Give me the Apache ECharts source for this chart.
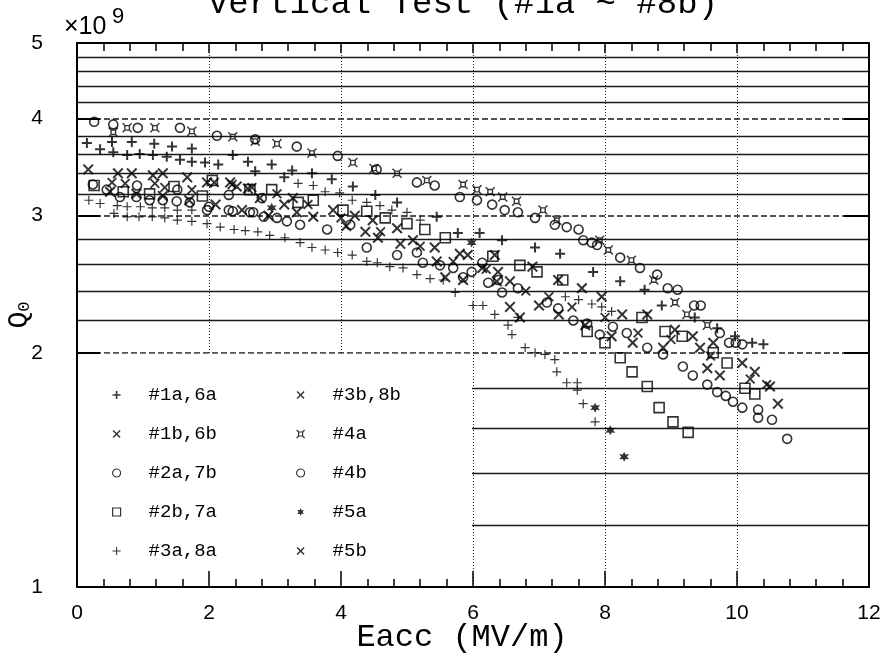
<!DOCTYPE html>
<html><head><meta charset="utf-8">
<script src="https://cdn.jsdelivr.net/npm/echarts@6/dist/echarts.min.js"></script>
<style>html,body{margin:0;padding:0;background:#fff}#c{width:886px;height:663px}</style>
</head><body><div id="c"></div>
<script>
// ---- tick labels / grid values ----
const xTickLabels = [0, 2, 4, 6, 8, 10, 12];
const yTickLabels = [1, 2, 3, 4, 5];
const yGridMinor = [1.2, 1.4, 1.6, 1.8, 2.2, 2.4, 2.6, 2.8, 3.2, 3.4, 3.6, 3.8, 4.2, 4.4, 4.6, 4.8];
const yGridMajor = [2, 3, 4];
const seriesNames = ['#1a,6a', '#1b,6b', '#2a,7b', '#2b,7a', '#3a,8a', '#3b,8b', '#4a', '#4b', '#5a', '#5b'];

// ---- data: [Eacc (MV/m), Q0 (x1e9)] ----
const s1a6a = [[0.15,3.72],[0.53,3.73],[0.83,3.73],[1.17,3.71],[1.44,3.68],[1.74,3.66],
  [0.35,3.65],[0.55,3.62],[0.76,3.59],[0.95,3.60],[1.15,3.59],[1.36,3.57],[1.56,3.54],[1.74,3.52],
  [1.94,3.51],[2.14,3.49],[2.36,3.59],[2.59,3.52],[2.7,3.42],[2.95,3.49],[3.14,3.36],[3.26,3.43],
  [3.56,3.40],[3.86,3.34],[4.18,3.27],[4.52,3.19],[4.85,3.12],[5.45,2.99],[5.77,2.85],[6.1,2.85],
  [6.44,2.79],[6.94,2.73],[7.32,2.68],[7.82,2.54],[8.23,2.47],[8.6,2.41],[8.86,2.30],[9.36,2.22],
  [9.7,2.15],[9.97,2.10],[10.23,2.06],[10.4,2.05]];
const s1b6b = [[0.17,3.44],[0.62,3.40],[0.83,3.40],[1.15,3.38],[1.3,3.40],[1.67,3.36],[1.97,3.31],
  [2.32,3.31],[2.42,3.27],[2.59,3.25],[2.77,3.16],[3.14,3.10],[3.27,3.16],[3.88,3.05],[4.21,3.00],
  [4.48,2.96],[4.85,2.89],[5.09,2.79],[5.42,2.73],[5.8,2.68],[5.92,2.67],[6.33,2.67],[6.56,2.47],
  [6.9,2.58],[7.29,2.48],[7.65,2.42],[7.95,2.36],[8.26,2.24],[8.64,2.24],[9.06,2.14],[9.33,2.10],
  [9.64,2.06],[10.08,1.94],[10.27,1.89],[10.5,1.81],[10.62,1.72]];
const s2a7b = [[0.24,3.29],[0.45,3.24],[0.65,3.17],[0.9,3.17],[0.91,3.28],[1.1,3.14],[1.3,3.14],
  [1.51,3.13],[1.52,3.24],[1.71,3.12],[1.97,3.05],[2.0,3.08],[2.3,3.05],[2.3,3.19],[2.36,3.04],
  [2.62,3.03],[2.67,3.03],[2.8,3.16],[2.83,2.99],[3.03,2.98],[3.18,2.95],[3.38,2.92],[3.79,2.88],
  [4.14,2.92],[4.39,2.73],[4.85,2.67],[5.15,2.69],[5.24,2.61],[5.5,2.59],[5.7,2.57],[5.85,2.50],
  [5.98,2.54],[6.14,2.61],[6.23,2.46],[6.38,2.48],[6.44,2.39],[6.68,2.42],[7.12,2.32],[7.29,2.28],
  [7.52,2.20],[7.73,2.18],[7.92,2.11],[8.12,2.16],[8.33,2.12],[8.64,2.03],[8.88,1.99],[9.18,1.92],
  [9.33,1.87],[9.55,1.82],[9.7,1.78],[9.83,1.76],[9.94,1.73],[10.08,1.70],[10.32,1.69],[10.32,1.65],
  [10.53,1.64],[10.76,1.55]];
const s2b7a = [[0.26,3.28],[0.7,3.22],[1.1,3.20],[1.47,3.27],[1.9,3.18],[2.05,3.33],[2.62,3.24],
  [2.95,3.24],[3.35,3.12],[3.58,3.14],[4.03,3.05],[4.39,3.04],[4.67,2.98],[5.0,2.93],[5.27,2.88],
  [5.58,2.81],[6.3,2.66],[6.71,2.59],[6.97,2.54],[7.36,2.48],[7.73,2.13],[8.0,2.06],[8.23,1.97],
  [8.41,1.89],[8.64,1.81],[8.82,1.70],[9.03,1.63],[9.26,1.58],[8.56,2.22],[8.91,2.13],[9.17,2.10],
  [9.64,2.00],[9.85,1.94],[10.12,1.80],[10.27,1.77]];
const s3a8a = [[0.18,3.14],[0.35,3.11],[0.61,3.09],[0.76,3.08],[0.96,3.08],[1.14,3.07],[1.33,3.07],
  [1.52,3.05],[1.74,3.05],[0.56,3.02],[0.76,2.99],[0.94,2.99],[1.14,2.99],[1.33,2.98],[1.52,2.96],
  [1.74,2.95],[1.97,2.93],[2.17,2.90],[2.38,2.88],[2.55,2.87],[2.74,2.86],[2.92,2.83],[3.15,2.81],
  [3.38,2.77],[3.56,2.73],[3.76,2.71],[3.95,2.69],[4.17,2.67],[4.39,2.62],[4.55,2.61],[4.74,2.58],
  [4.94,2.57],[5.15,2.52],[5.35,2.49],[5.55,2.48],[5.73,2.39],[6.0,2.30],[6.15,2.30],[6.33,2.24],
  [6.53,2.17],[6.68,2.22],[6.59,2.11],[6.79,2.03],[6.94,2.00],[7.09,1.99],[7.24,1.96],[7.27,1.89],
  [7.42,1.83],[7.58,1.83],[7.58,1.79],[7.67,1.72],[7.85,1.63],
  [3.35,3.30],[3.58,3.28],[3.76,3.22],[3.98,3.21],[4.17,3.14],[4.39,3.12],[4.59,3.09],[4.77,3.05],
  [5.0,3.03],[5.2,2.96],[7.4,2.36],[7.6,2.34],[7.8,2.31],[7.95,2.29],[8.1,2.26]];
const s3b8b = [[0.5,3.22],[0.9,3.20],[1.3,3.18],[1.7,3.14],[2.1,3.10],[2.5,3.05],[2.9,3.00],
  [3.33,3.03],[3.58,2.99],[4.08,2.91],[4.37,2.86],[4.56,2.81],[4.9,2.76],[5.45,2.62],[5.58,2.50],
  [5.85,2.48],[6.14,2.57],[6.38,2.54],[6.36,2.47],[6.56,2.29],[6.71,2.22],[7.0,2.30],[7.3,2.24],
  [7.7,2.17],[8.1,2.10],[8.42,2.06],[8.88,2.03],[9.44,2.03],[9.55,1.91],[9.74,1.87]];
const s4a = [[0.55,3.84],[0.76,3.89],[1.18,3.89],[1.74,3.85],[2.36,3.79],[2.7,3.74],[3.03,3.71],
  [3.56,3.61],[4.18,3.51],[4.5,3.45],[4.85,3.40],[5.3,3.33],[5.85,3.29],[6.06,3.24],[6.26,3.22],
  [6.45,3.17],[6.66,3.13],[7.06,3.05],[7.27,2.96],[7.92,2.79],[8.05,2.71],[8.4,2.63],[8.74,2.48],
  [9.06,2.32],[9.24,2.24],[9.55,2.17]];
const s4b = [[0.26,3.96],[0.55,3.93],[0.92,3.89],[1.56,3.89],[2.12,3.80],[2.7,3.76],[3.33,3.68],
  [3.95,3.58],[4.54,3.44],[5.15,3.31],[5.42,3.28],[5.8,3.17],[6.06,3.14],[6.29,3.10],[6.48,3.05],
  [6.68,3.03],[6.94,2.98],[7.24,2.92],[7.42,2.90],[7.6,2.88],[7.67,2.79],[7.8,2.77],[7.88,2.75],
  [8.23,2.65],[8.53,2.57],[8.79,2.52],[8.95,2.42],[9.1,2.41],[9.35,2.30],[9.45,2.30],[9.74,2.12],
  [9.88,2.06],[9.98,2.06],[10.08,2.05]];
const s5a = [[2.95,3.07],[5.98,2.77],[7.85,1.70],[8.08,1.59],[8.29,1.47]];
const s5b = [[0.53,3.31],[0.73,3.30],[1.18,3.30],[1.33,3.26],[1.74,3.24],[2.08,3.31],[2.35,3.29],
  [2.65,3.26],[3.03,3.20],[3.5,3.10],[4.0,2.98],[4.6,2.86],[5.2,2.74],[5.7,2.62],[6.2,2.56],
  [6.8,2.40],[7.15,2.36],[7.5,2.29],[8.0,2.22],[8.5,2.12],[9.0,2.08],[9.6,1.98],[10.2,1.85],[10.45,1.82]];

// ---- symbols ----
const PLUS = 'path://M4,0H6V4H10V6H6V10H4V6H0V4H4Z';
const PLUS_THIN = 'path://M4.35,0H5.65V4.35H10V5.65H5.65V10H4.35V5.65H0V4.35H4.35Z';
const CROSS = 'path://M0,1.3L1.3,0L5,3.7L8.7,0L10,1.3L6.3,5L10,8.7L8.7,10L5,6.3L1.3,10L0,8.7L3.7,5Z';
const SQUARE = 'path://M0,0H10V10H0Z';
const BOXX = 'path://M2.5,2.5H7.5V7.5H2.5Z M0,0L2.5,2.5 M10,0L7.5,2.5 M0,10L2.5,7.5 M10,10L7.5,7.5';
const STAR = 'path://M5,0L6.2,2.8L9.3,2.5L7.4,5L9.3,7.5L6.2,7.2L5,10L3.8,7.2L0.7,7.5L2.6,5L0.7,2.5L3.8,2.8Z';

const BLACK = '#000';
const solid = {color: BLACK};
const hollow = {color: 'rgba(0,0,0,0)', borderColor: BLACK, borderWidth: 1.6};

function sc(name, data, symbol, size, style) {
  return {
    type: 'scatter', name: name, data: data, symbol: symbol, symbolSize: size,
    itemStyle: style, xAxisIndex: 0, yAxisIndex: 0,
    emphasis: {disabled: true}, silent: true, z: 2
  };
}

const chart = echarts.init(document.getElementById('c'), null, {renderer: 'canvas'});
const FONT_NUM = 'Liberation Sans';
const FONT_MONO = 'Liberation Mono';

const legendCommon = {
  orient: 'vertical', itemWidth: 54, itemHeight: 8, itemGap: 19, padding: 0,
  selectedMode: false, z: 4,
  itemStyle: {borderWidth: 1.2},
  textStyle: {fontFamily: FONT_MONO, fontSize: 19, color: BLACK, lineHeight: 20}
};

chart.setOption({
  animation: false,
  backgroundColor: '#fff',
  grid: {left: 77, right: 17, top: 43, bottom: 76, containLabel: false, outerBoundsMode: 'none'},
  legend: [
    Object.assign({data: seriesNames.slice(0, 5), left: 112, top: 385}, legendCommon),
    Object.assign({data: seriesNames.slice(5), left: 296, top: 385}, legendCommon)
  ],
  xAxis: [
    { // main bottom axis with ticks + labels
      type: 'value', min: 0, max: 12, interval: 2, position: 'bottom', z: 3,
      axisLine: {show: true, lineStyle: {color: BLACK, width: 2}},
      axisTick: {show: true, inside: true, length: 16, lineStyle: {color: BLACK, width: 1.5}},
      minorTick: {show: true, splitNumber: 5, length: 8, lineStyle: {color: BLACK, width: 1.5}},
      axisLabel: {customValues: xTickLabels, margin: 16, fontSize: 21, fontFamily: FONT_NUM, color: BLACK},
      splitLine: {show: false},
      name: 'Eacc (MV/m)', nameLocation: 'middle', nameGap: 35, nameMoveOverlap: false,
      nameTextStyle: {fontFamily: FONT_MONO, fontSize: 32, color: BLACK, padding: [0, 22, 0, 0]}
    },
    { // top mirror axis
      type: 'value', min: 0, max: 12, interval: 2, position: 'top', z: 3,
      axisLine: {show: true, lineStyle: {color: BLACK, width: 2}},
      axisTick: {show: true, inside: true, length: 10, lineStyle: {color: BLACK, width: 1.5}},
      minorTick: {show: true, splitNumber: 5, length: 8, lineStyle: {color: BLACK, width: 1.5}},
      axisLabel: {show: false}, splitLine: {show: false}
    },
    { // vertical dotted grid lines only
      type: 'value', min: 0, max: 12, interval: 2, position: 'bottom', z: 0,
      axisLine: {show: false}, axisTick: {show: false}, axisLabel: {show: false},
      splitLine: {show: true, lineStyle: {color: '#222', width: 1, type: [1, 2]}}
    }
  ],
  yAxis: [
    { // main left axis
      type: 'log', logBase: 10, min: 1, max: 5, position: 'left', z: 3,
      axisLine: {show: true, lineStyle: {color: BLACK, width: 2}},
      axisTick: {show: true, inside: true, length: 23, customValues: yTickLabels, lineStyle: {color: BLACK, width: 2}},
      axisLabel: {customValues: yTickLabels, margin: 34, fontSize: 21, fontFamily: FONT_NUM, color: BLACK},
      splitLine: {show: false},
      name: 'Q{sub|0}', nameLocation: 'middle', nameGap: 44, nameRotate: 90, nameMoveOverlap: false,
      nameTextStyle: {fontFamily: FONT_MONO, fontSize: 28, color: BLACK,
        rich: {sub: {fontFamily: FONT_MONO, fontSize: 17, color: BLACK, verticalAlign: 'bottom', lineHeight: 24}}}
    },
    { // minor solid horizontal grid
      type: 'log', logBase: 10, min: 1, max: 5, position: 'left', z: 0,
      axisLine: {show: false}, axisTick: {show: false, customValues: yGridMinor},
      axisLabel: {show: false, customValues: yGridMinor},
      splitLine: {show: true, lineStyle: {color: '#1a1a1a', width: 1.4}}
    },
    { // dashed horizontal grid at 2,3,4
      type: 'log', logBase: 10, min: 1, max: 5, position: 'left', z: 0,
      axisLine: {show: false}, axisTick: {show: false, customValues: yGridMajor},
      axisLabel: {show: false, customValues: yGridMajor},
      splitLine: {show: true, lineStyle: {color: '#1a1a1a', width: 1.5, type: [6, 3]}}
    },
    { // right mirror axis
      type: 'log', logBase: 10, min: 1, max: 5, position: 'right', z: 3,
      axisLine: {show: true, lineStyle: {color: BLACK, width: 2}},
      axisTick: {show: true, inside: true, length: 25, customValues: yGridMajor, lineStyle: {color: BLACK, width: 2}},
      axisLabel: {show: false}, splitLine: {show: false}
    }
  ],
  series: [
    sc(seriesNames[0], s1a6a, PLUS, 10, solid),
    sc(seriesNames[1], s1b6b, CROSS, 11, solid),
    sc(seriesNames[2], s2a7b, 'circle', 9, hollow),
    sc(seriesNames[3], s2b7a, SQUARE, 10, hollow),
    sc(seriesNames[4], s3a8a, PLUS_THIN, 9, solid),
    sc(seriesNames[5], s3b8b, CROSS, 11, solid),
    sc(seriesNames[6], s4a, BOXX, 9, {color: 'rgba(0,0,0,0)', borderColor: BLACK, borderWidth: 1.4}),
    sc(seriesNames[7], s4b, 'circle', 9, hollow),
    sc(seriesNames[8], s5a, STAR, 10, solid),
    sc(seriesNames[9], s5b, CROSS, 10, solid)
  ]
});

// white panel behind the legend, placed through the axis scales
const pTL = chart.convertToPixel({xAxisIndex: 0, yAxisIndex: 0}, [0, 2]);
const pBR = chart.convertToPixel({xAxisIndex: 0, yAxisIndex: 0}, [6, 1]);
chart.setOption({
  graphic: [
    {type: 'rect', z: 1, silent: true,
     shape: {x: pTL[0] + 1, y: pTL[1] + 1, width: pBR[0] - pTL[0] - 2, height: pBR[1] - pTL[1] - 2},
     style: {fill: '#fff'}},
    {type: 'text', z: 5, silent: true,
     style: {text: 'Vertical Test (#1a ~ #8b)', x: 463, y: 4, font: '34px "Liberation Mono"', fill: BLACK, align: 'center', verticalAlign: 'middle'}},
    {type: 'text', z: 5, silent: true,
     style: {text: '\u00d710', x: 64, y: 27, font: '25px "Liberation Sans"', fill: BLACK, align: 'left', verticalAlign: 'middle'}},
    {type: 'text', z: 5, silent: true,
     style: {text: '9', x: 112, y: 17, font: '22px "Liberation Sans"', fill: BLACK, align: 'left', verticalAlign: 'middle'}}
  ]
});
</script>
</body></html>
